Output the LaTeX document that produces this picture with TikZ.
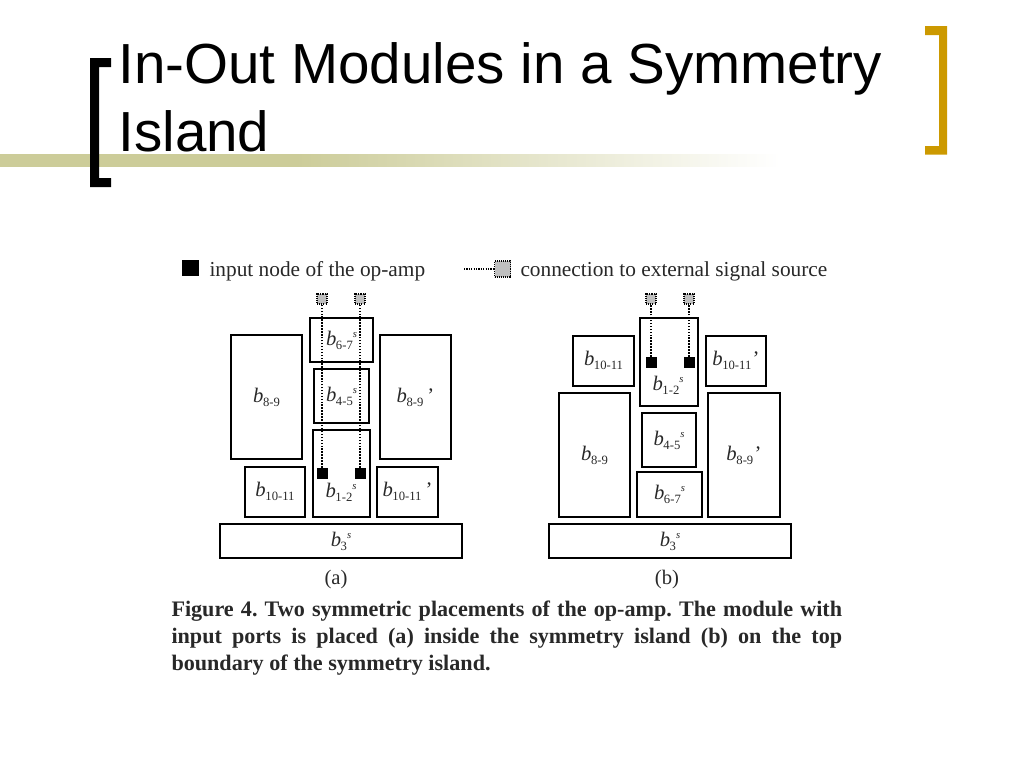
\documentclass[tikz,border=0pt]{standalone}
\usepackage{fontspec}
\setmainfont{Liberation Serif}
\newfontfamily\titlefont{Liberation Sans}
\definecolor{barcol}{RGB}{204,204,153}
\definecolor{goldcol}{RGB}{204,153,0}
\definecolor{inkcol}{RGB}{40,40,40}
\pgfdeclarehorizontalshading{barshade}{100bp}{color(0bp)=(barcol); color(44bp)=(barcol); color(75bp)=(white); color(100bp)=(white)}
\newcommand{\blk}[2]{\textit{b}\kern-0.3pt\raisebox{-3pt}{\fontsize{9.5}{9.5}\selectfont #1}\raisebox{6pt}{\fontsize{8}{8}\selectfont\textit{#2}}}
\tikzset{every picture/.style={line width=0.75pt},
	blockbox/.style={draw,line width=1.5pt,inner sep=0pt,text=inkcol,font=\fontsize{15.5}{15.5}\selectfont},
	blocktext/.style={inner sep=0pt,text=inkcol,font=\fontsize{15.5}{15.5}\selectfont},
	legendtext/.style={inner sep=0pt,text=inkcol,font=\fontsize{16}{16}\selectfont},
	inport/.style={fill=black,inner sep=0pt,minimum size=8.25pt},
	srcport/.style={draw,dash pattern=on 0.8pt off 0.8pt,fill=black!25,line width=0.8pt,inner sep=0pt,minimum size=7.5pt},
	wire/.style={dash pattern=on 1.1pt off 1.1pt,line width=1.1pt}}

\begin{document}
\begin{tikzpicture}[x=0.75pt,y=0.75pt,yscale=-1,xscale=1]
	\useasboundingbox (0,0) rectangle (1024,768);
	
	%Title bar
	\shade [shading=barshade] (0,154) rectangle (780,166);
	%Brackets
	\fill [black] (111,58) -- (90,58) -- (90,187) -- (111,187) -- (111,178) -- (99,178) -- (99,67) -- (111,67) -- cycle;
	\fill [goldcol] (925,26) -- (947,26) -- (947,154.5) -- (925,154.5) -- (925,146) -- (939,146) -- (939,35) -- (925,35) -- cycle;
	
	% Title
	\node (title1) [anchor=base west,inner sep=0pt,font=\titlefont\fontsize{42.4}{42.4}\selectfont] at (118,83) {In-Out Modules in a Symmetry};
	\node (title2) [anchor=base west,inner sep=0pt,font=\titlefont\fontsize{42.4}{42.4}\selectfont] at (118,151) {Island};
	
	% Legend
	\node (leginput) [fill=black,inner sep=0pt,minimum size=12.5pt] at (190.5,268) {};
	\node (legtext) [anchor=base west,legendtext] at (209,276) {input node of the op-amp};
	\node (legsrc) [srcport,minimum size=12pt] at (502.5,269) {};
	\coordinate (legwire) at (464,269);
	\draw [wire,line width=0.9pt,dash pattern=on 0.9pt off 0.9pt] (legwire) -- (legsrc);
	\node (legsrctext) [anchor=base west,legendtext] at (520,276) {connection to external signal source};
	
	% Placement (a)
	\node (b3a) [blockbox,minimum width=181pt,minimum height=25pt] at (341,541) {\blk{3}{s}};
	\node (b1011a) [blockbox,minimum width=45.5pt,minimum height=37.5pt] at (275,491.7) {\blk{10-11}{}};
	\node (b12a) [blockbox,minimum width=42.5pt,minimum height=65pt] at (341.5,473.5) {};
	\node (lb12a) [blocktext] at (341,492) {\blk{1-2}{s}};
	\node (b1011pa) [blockbox,minimum width=45.5pt,minimum height=37.5pt] at (407.5,491.7) {\blk{10-11}{}\kern3pt'};
	\node (b89a) [blockbox,minimum width=53pt,minimum height=93pt] at (266.5,397) {\blk{8-9}{}};
	\node (b89pa) [blockbox,minimum width=53.5pt,minimum height=93pt] at (415.5,397) {\blk{8-9}{}\kern3pt'};
	\node (b45a) [blockbox,minimum width=41pt,minimum height=40.5pt] at (341.5,396) {\blk{4-5}{s}};
	\node (b67a) [blockbox,minimum width=47pt,minimum height=32.5pt] at (341.5,340) {\blk{6-7}{s}};
	\node (ina1) [inport] at (322,473.5) {};
	\node (ina2) [inport] at (360,473.5) {};
	\node (srca1) [srcport] at (322,299) {};
	\node (srca2) [srcport] at (360,299) {};
	\draw [wire] (ina1) -- (srca1);
	\draw [wire] (ina2) -- (srca2);
	\node (capa) [blocktext] at (336,580) {(a)};
	
	% Placement (b)
	\node (b3b) [blockbox,minimum width=181pt,minimum height=25pt] at (670,541) {\blk{3}{s}};
	\node (b1011b) [blockbox,minimum width=45.5pt,minimum height=37.5pt] at (603.5,360.5) {\blk{10-11}{}};
	\node (b12b) [blockbox,minimum width=43.5pt,minimum height=65.5pt] at (669,362) {};
	\node (lb12b) [blocktext] at (668,385) {\blk{1-2}{s}};
	\node (b1011pb) [blockbox,minimum width=45.5pt,minimum height=37.5pt] at (736,360.5) {\blk{10-11}{}\kern1pt'};
	\node (b89b) [blockbox,minimum width=53pt,minimum height=93pt] at (594.5,455) {\blk{8-9}{}};
	\node (b89pb) [blockbox,minimum width=53.5pt,minimum height=93pt] at (744,455) {\blk{8-9}{}\kern1pt'};
	\node (b45b) [blockbox,minimum width=40.5pt,minimum height=40.5pt] at (669,440) {\blk{4-5}{s}};
	\node (b67b) [blockbox,minimum width=48.5pt,minimum height=33.5pt] at (669.5,494.5) {\blk{6-7}{s}};
	\node (inb1) [inport] at (651,362.5) {};
	\node (inb2) [inport] at (689,362.5) {};
	\node (srcb1) [srcport] at (651,299) {};
	\node (srcb2) [srcport] at (689,299) {};
	\draw [wire] (inb1) -- (srcb1);
	\draw [wire] (inb2) -- (srcb2);
	\node (capb) [blocktext] at (667,580) {(b)};
	
	% Figure caption
	\node (figcap) [anchor=north west,inner sep=0pt,text width=503pt,align=justify,text=inkcol,font=\frenchspacing\bfseries\fontsize{16.6}{20.25}\selectfont] at (171,600) {Figure 4. Two symmetric placements of the op-amp. The module with\linebreak input ports is placed (a) inside the symmetry island (b) on the top\linebreak boundary of the symmetry island.};
\end{tikzpicture}
\end{document}
